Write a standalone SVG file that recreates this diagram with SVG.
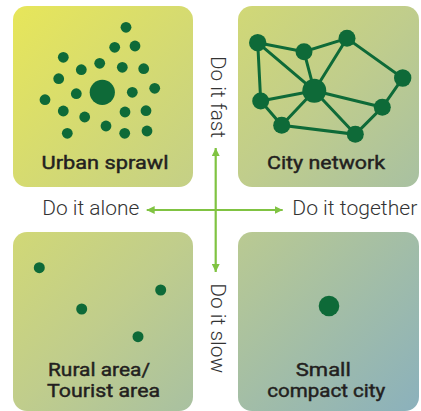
<svg xmlns="http://www.w3.org/2000/svg" width="421" height="411" viewBox="0 0 421 411">
  <defs>
    <linearGradient id="bg" gradientUnits="userSpaceOnUse" x1="13" y1="6" x2="419" y2="410">
      <stop offset="0" stop-color="#e7e65a"/>
      <stop offset="0.5" stop-color="#c0cd8c"/>
      <stop offset="1" stop-color="#8bb1bc"/>
    </linearGradient>
    <marker id="ah" viewBox="0 0 8 8" refX="8" refY="4" markerWidth="8" markerHeight="8" markerUnits="userSpaceOnUse" orient="auto">
      <path d="M0,0 L8,4 L0,8 Z" fill="#80c342"/>
    </marker>
  </defs>
  <style>
    .box { fill: url(#bg); }
    .dot { fill: #0e6a38; }
    .edge { stroke: #0e6a38; stroke-width: 3; fill: none; }
    .title { font-family: Roboto, "Liberation Sans", sans-serif; font-weight: 400; font-size: 19px; fill: #231f20; stroke: #231f20; stroke-width: 0.45; text-anchor: middle; }
    .axis { stroke: #80c342; stroke-width: 2.2; fill: none; }
    .lab { font-family: Roboto, "Liberation Sans", sans-serif; font-weight: 300; font-size: 20px; fill: #333; }
  </style>

  <g id="urban-sprawl">
    <rect class="box" x="13" y="6" width="180" height="181" rx="14"/>
    <circle class="dot" cx="102.3" cy="92.3" r="12.6"/>
    <g class="dot">
      <circle cx="126" cy="27.3" r="5.4"/>
      <circle cx="114.7" cy="47.3" r="5.4"/>
      <circle cx="135" cy="46" r="5.4"/>
      <circle cx="63.3" cy="57.3" r="5.4"/>
      <circle cx="99.7" cy="63.3" r="5.4"/>
      <circle cx="81.3" cy="69.7" r="5.4"/>
      <circle cx="122.3" cy="67.3" r="5.4"/>
      <circle cx="143.7" cy="68.7" r="5.4"/>
      <circle cx="58.7" cy="78.7" r="5.4"/>
      <circle cx="154.7" cy="88.3" r="5.4"/>
      <circle cx="76.3" cy="93.7" r="5.4"/>
      <circle cx="132.3" cy="92.3" r="5.4"/>
      <circle cx="45" cy="99.7" r="5.4"/>
      <circle cx="63.3" cy="111" r="5.4"/>
      <circle cx="84.7" cy="117" r="5.4"/>
      <circle cx="125" cy="112" r="5.4"/>
      <circle cx="146" cy="110.7" r="5.4"/>
      <circle cx="106" cy="126" r="5.4"/>
      <circle cx="67.3" cy="133.3" r="5.4"/>
      <circle cx="124.7" cy="133.3" r="5.4"/>
      <circle cx="147" cy="131" r="5.4"/>
    </g>
    <text class="title" x="105" y="169" textLength="127" lengthAdjust="spacingAndGlyphs">Urban sprawl</text>
  </g>

  <g id="city-network">
    <rect class="box" x="238" y="6" width="181" height="181" rx="14"/>
    <g class="edge">
      <path d="M257.7,42.7 L304,51.7 L347,38.3 L402.7,78 L382.3,107.3 L355.3,134.3 L281.7,125.3 L260.7,101 Z"/>
      <path d="M314.3,90.7 L257.7,42.7 M314.3,90.7 L304,51.7 M314.3,90.7 L347,38.3 M314.3,90.7 L260.7,101 M314.3,90.7 L382.3,107.3 M314.3,90.7 L355.3,134.3 M314.3,90.7 L281.7,125.3"/>
    </g>
    <g class="dot">
      <circle cx="257.7" cy="42.7" r="8.7"/>
      <circle cx="304" cy="51.7" r="8.5"/>
      <circle cx="347" cy="38.3" r="8.5"/>
      <circle cx="402.7" cy="78" r="8.7"/>
      <circle cx="314.3" cy="90.7" r="12"/>
      <circle cx="260.7" cy="101" r="8.5"/>
      <circle cx="382.3" cy="107.3" r="8.5"/>
      <circle cx="281.7" cy="125.3" r="8.5"/>
      <circle cx="355.3" cy="134.3" r="8.5"/>
    </g>
    <text class="title" x="326" y="169" textLength="118" lengthAdjust="spacingAndGlyphs">City network</text>
  </g>

  <g id="rural-area">
    <rect class="box" x="13" y="232" width="180" height="179" rx="14"/>
    <g class="dot">
      <circle cx="39.3" cy="267.7" r="5.5"/>
      <circle cx="81.7" cy="309" r="5.5"/>
      <circle cx="160.7" cy="290" r="5.5"/>
      <circle cx="138" cy="336.7" r="5.5"/>
    </g>
    <text class="title" x="99" y="375.5" textLength="102" lengthAdjust="spacingAndGlyphs">Rural area/</text>
    <text class="title" x="103.6" y="396.5" textLength="113" lengthAdjust="spacingAndGlyphs">Tourist area</text>
  </g>

  <g id="small-compact-city">
    <rect class="box" x="238" y="232" width="181" height="179" rx="14"/>
    <circle class="dot" cx="329" cy="306" r="10.3"/>
    <text class="title" x="323.3" y="375.5" textLength="55" lengthAdjust="spacingAndGlyphs">Small</text>
    <text class="title" x="326.2" y="396.5" textLength="118" lengthAdjust="spacingAndGlyphs">compact city</text>
  </g>

  <g id="connectors">
    <line class="axis" x1="215.7" y1="210" x2="215.7" y2="148" marker-end="url(#ah)"/>
    <line class="axis" x1="215.7" y1="210" x2="215.7" y2="272" marker-end="url(#ah)"/>
    <line class="axis" x1="215.7" y1="210" x2="146.7" y2="210" marker-end="url(#ah)"/>
    <line class="axis" x1="215.7" y1="210" x2="282.7" y2="210" marker-end="url(#ah)"/>
  </g>

  <g id="axis-labels">
    <text class="lab" x="42.3" y="215" textLength="97" lengthAdjust="spacingAndGlyphs">Do it alone</text>
    <text class="lab" x="292.3" y="215" textLength="125" lengthAdjust="spacingAndGlyphs">Do it together</text>
    <text class="lab" transform="translate(210.5,56) rotate(90)" textLength="82" lengthAdjust="spacingAndGlyphs">Do it fast</text>
    <text class="lab" transform="translate(210.5,283.3) rotate(90)" textLength="90" lengthAdjust="spacingAndGlyphs">Do it slow</text>
  </g>
</svg>
